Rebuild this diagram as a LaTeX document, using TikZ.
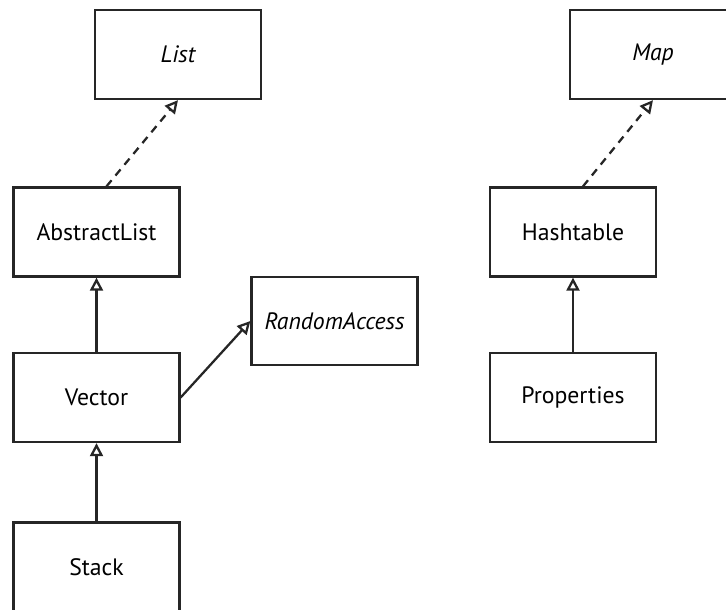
\documentclass[tikz,border=0pt]{standalone}
\usepackage{fontspec}
\setmainfont{PT Sans}
\usepackage{tikz}
\usetikzlibrary{arrows.meta}
\tikzset{
box/.style = {rectangle, draw=black!85, line width=1.3pt, minimum width = #1, minimum height=1.78cm, font=\fontsize{13.5}{15}\selectfont},
box/.default = 3.32cm, % width of a class box
inherit/.style = {-{Triangle[open, length=0.26cm, width=0.26cm]}, line width=1.3pt, draw=black!85},
realize/.style = {inherit, dash pattern=on 4.5pt off 3.5pt},
}

\begin{document}
\begin{tikzpicture}
\useasboundingbox (0,0) rectangle (14.52,-12.18);

    \node[box] (list) at (3.56,-1.09) {\itshape List};
    \node[box] (map) at (13.06,-1.09) {\itshape Map};
    \node[box] (abstract) at (1.93,-4.64) {AbstractList};
    \node[box] (hash) at (11.46,-4.64) {Hashtable};
    \node[box, minimum height=1.76cm] (random) at (6.69,-6.42) {\itshape RandomAccess};
    \node[box] (vector) at (1.93,-7.95) {Vector};
    \node[box] (props) at (11.46,-7.95) {Properties};
    \node[box] (stack) at (1.93,-11.34) {Stack};

\draw[realize]  ([xshift=0.2cm]abstract.north) -- (list.south);
\draw[realize]  ([xshift=0.2cm]hash.north) -- (map.south);
\draw[inherit]  (vector.north) -- (abstract.south);
\draw[inherit]  (stack.north) -- (vector.south);
\draw[inherit]  (vector.east) -- (random.west);
\draw[inherit]  (props.north) -- (hash.south);

\end{tikzpicture}
\end{document}
